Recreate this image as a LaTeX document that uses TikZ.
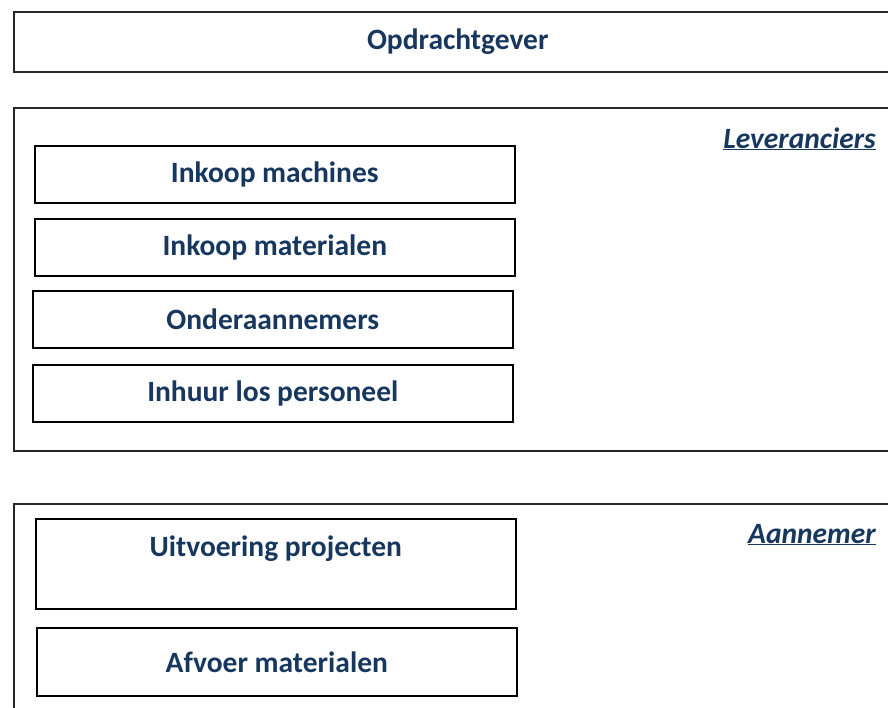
\documentclass[tikz,border=0pt]{standalone}
\usepackage{fontspec}
\setmainfont{Carlito}
\usepackage{xcolor}
\usetikzlibrary{positioning}

\definecolor{kopblauw}{HTML}{17375E}

\begin{document}
\begin{tikzpicture}[x=1pt,y=-1pt,
    laag/.style={draw=black!85, line width=1.6pt, rectangle, minimum width=890pt},
    blok/.style={draw=black, line width=1.6pt, rectangle, minimum width=480pt, minimum height=57pt,
      text=kopblauw, font=\bfseries\fontsize{29.5}{34}\selectfont},
    kop/.style={text=kopblauw, font=\bfseries\fontsize{29.5}{34}\selectfont},
    rol/.style={text=kopblauw, font=\bfseries\itshape\fontsize{29.5}{34}\selectfont, anchor=base east, inner sep=0pt}]
        % Page size (boxes run off to the right and bottom)
        \useasboundingbox (0,0) rectangle (888,707);
        \clip (0,0) rectangle (888,707);
        % Opdrachtgever
        \node[laag, minimum height=60pt, anchor=north west, text=kopblauw,
          font=\bfseries\fontsize{29.5}{34}\selectfont] (opdracht) at (13,11) {\hspace*{-2pt}Opdrachtgever};
        % Leveranciers
        \node[laag, minimum height=343pt, anchor=north west] (lev) at (13,107) {};
        \node[rol] (levkop) at (876,148) {\underline{Leveranciers}};
        \node[blok, anchor=north west] (machines) at (34,145) {Inkoop machines};
        \node[blok, anchor=north west] (materialen) at (34,218) {Inkoop materialen};
        \node[blok, anchor=north west] (onder) at (32,290) {Onderaannemers};
        \node[blok, anchor=north west] (inhuur) at (32,364) {Inhuur los personeel};
        % Aannemer
        \node[laag, minimum height=230pt, anchor=north west] (aan) at (13,503) {};
        \node[rol] (aankop) at (876,543) {\underline{Aannemer}};
        \node[blok, anchor=north west, minimum height=90pt] (uitvoer) at (35,518) {};
        \node[kop, below=14pt of uitvoer.north, anchor=north] (uitvoertekst) {Uitvoering projecten};
        \node[blok, anchor=north west, minimum height=68pt] (afvoer) at (36,627) {Afvoer materialen};
\end{tikzpicture}
\end{document}
